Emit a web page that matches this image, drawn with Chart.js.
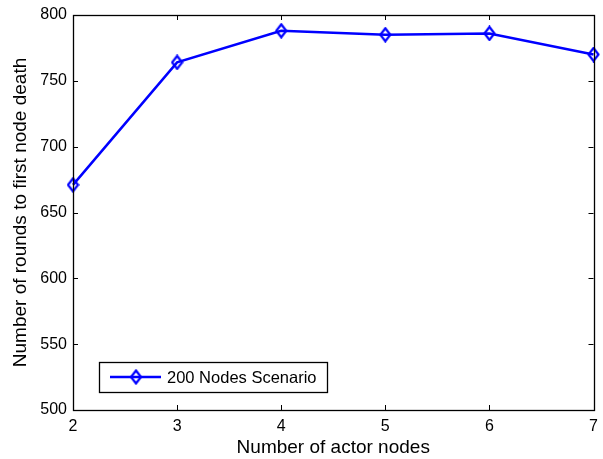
<!DOCTYPE html>
<html>
<head>
<meta charset="utf-8">
<script src="https://cdn.jsdelivr.net/npm/chart.js@4"></script>
<style>
  body { margin: 0; background: #fff; }
  #wrap { width: 603px; height: 459px; }
</style>
</head>
<body>
<div id="wrap"><canvas id="canvas" width="603" height="459"></canvas></div>
<script>
// values
var actorNodes = [2, 3, 4, 5, 6, 7];
var roundsToFirstDeath = [671, 764, 788, 785, 786, 770];
var seriesName = '200 Nodes Scenario';
var xTicks = [2, 3, 4, 5, 6, 7];
var yTicks = [500, 550, 600, 650, 700, 750, 800];

var FONT = 'Liberation Sans, Arial, Helvetica, sans-serif';
var BLUE = '#0000ff';

// tall diamond like the matlab marker
function makeDiamond() {
    var c = document.createElement('canvas');
    var w = 13, h = 16;
    c.width = w; c.height = h;
    var g = c.getContext('2d');
    g.strokeStyle = BLUE;
    g.lineWidth = 2.2;
    g.beginPath();
    g.moveTo(w / 2, 1.5);
    g.lineTo(w - 1.5, h / 2);
    g.lineTo(w / 2, h - 1.5);
    g.lineTo(1.5, h / 2);
    g.closePath();
    g.stroke();
    return c;
}
var diamond = makeDiamond();

// box round the plot with inward ticks on all four sides
var matlabFrame = {
    id: 'matlabFrame',
    afterDraw: function (chart) {
        var ctx = chart.ctx;
        var a = chart.chartArea;
        var xs = chart.scales.x, ys = chart.scales.y;
        var len = 5;
        ctx.save();
        ctx.strokeStyle = '#000';
        ctx.lineWidth = 1;
        ctx.beginPath();
        xTicks.forEach(function (v) {
            var px = Math.round(xs.getPixelForValue(v)) + 0.5;
            ctx.moveTo(px, a.bottom); ctx.lineTo(px, a.bottom - len);
            ctx.moveTo(px, a.top); ctx.lineTo(px, a.top + len);
        });
        yTicks.forEach(function (v) {
            var py = Math.round(ys.getPixelForValue(v)) + 0.5;
            ctx.moveTo(a.left, py); ctx.lineTo(a.left + len, py);
            ctx.moveTo(a.right, py); ctx.lineTo(a.right - len, py);
        });
        ctx.stroke();
        ctx.lineWidth = 1.3;
        ctx.strokeRect(Math.round(a.left) + 0.5, Math.round(a.top) + 0.5,
            Math.round(a.right - a.left), Math.round(a.bottom - a.top));
        ctx.restore();
    }
};

// legend box in the lower left of the axes
var boxLegend = {
    id: 'boxLegend',
    afterDraw: function (chart) {
        var ctx = chart.ctx;
        var a = chart.chartArea;
        var x0 = a.left + 26, y0 = a.bottom - 48;
        var w = 228, h = 30;
        var cy = y0 + h / 2;
        ctx.save();
        ctx.fillStyle = '#fff';
        ctx.fillRect(x0, y0, w, h);
        ctx.strokeStyle = '#000';
        ctx.lineWidth = 1.3;
        ctx.strokeRect(x0 + 0.5, y0 + 0.5, w, h);
        ctx.strokeStyle = BLUE;
        ctx.lineWidth = 2.5;
        ctx.beginPath();
        ctx.moveTo(x0 + 11, cy);
        ctx.lineTo(x0 + 62, cy);
        ctx.stroke();
        ctx.drawImage(diamond, x0 + 37 - diamond.width / 2, cy - diamond.height / 2);
        ctx.fillStyle = '#000';
        ctx.font = '16.5px ' + FONT;
        ctx.textBaseline = 'middle';
        ctx.textAlign = 'left';
        ctx.fillText(chart.data.datasets[0].label, x0 + 68, cy + 1);
        ctx.restore();
    }
};

var ctx = document.getElementById('canvas').getContext('2d');
var chart = new Chart(ctx, {
    type: 'line',
    data: {
        datasets: [{
            label: seriesName,
            data: actorNodes.map(function (x, i) { return { x: x, y: roundsToFirstDeath[i] }; }),
            borderColor: BLUE,
            borderWidth: 2.5,
            pointStyle: diamond,
            pointRadius: 7,
            tension: 0,
            clip: false
        }]
    },
    options: {
        responsive: false,
        animation: false,
        devicePixelRatio: 1,
        layout: { padding: { top: 15, right: 9, left: 0, bottom: 0 } },
        plugins: {
            legend: { display: false },
            tooltip: { enabled: false }
        },
        scales: {
            x: {
                type: 'linear',
                min: 2, max: 7,
                afterBuildTicks: function (s) { s.ticks = xTicks.map(function (v) { return { value: v }; }); },
                afterFit: function (s) { s.height = 49; s.paddingLeft = 0; s.paddingRight = 0; },
                grid: { display: false, drawTicks: false },
                border: { display: false },
                ticks: { color: '#000', font: { family: FONT, size: 16 }, padding: 7, maxRotation: 0 },
                title: { display: true, text: 'Number of actor nodes', color: '#000',
                    font: { family: FONT, size: 19 }, padding: { top: 0, bottom: 0 } }
            },
            y: {
                min: 500, max: 800,
                afterBuildTicks: function (s) { s.ticks = yTicks.map(function (v) { return { value: v }; }); },
                afterFit: function (s) { s.width = 73; s.paddingTop = 0; s.paddingBottom = 0; },
                grid: { display: false, drawTicks: false },
                border: { display: false },
                ticks: { color: '#000', font: { family: FONT, size: 16 }, padding: 6 },
                title: { display: true, text: 'Number of rounds to first node death', color: '#000',
                    font: { family: FONT, size: 19 }, padding: { top: 9, bottom: 0 } }
            }
        }
    },
    plugins: [matlabFrame, boxLegend]
});
</script>
</body>
</html>
